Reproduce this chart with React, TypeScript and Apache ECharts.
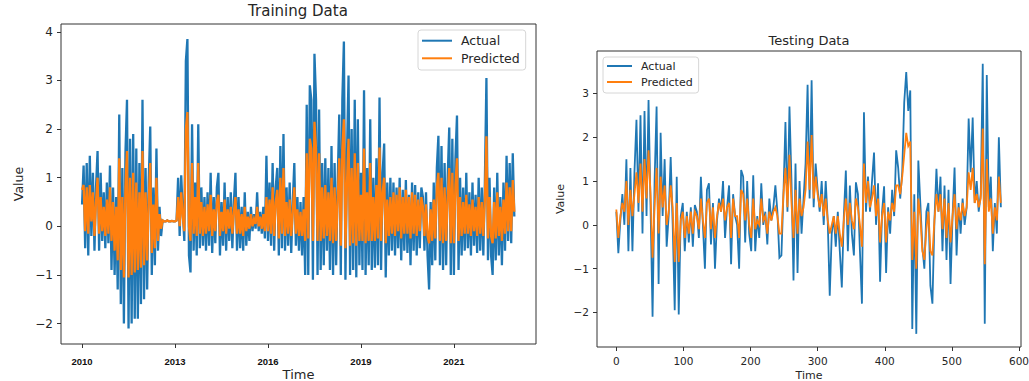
import React, { useEffect, useRef } from 'react';
import * as echarts from 'echarts';

// ---------- Training data (sampled every 0.05 year from 2010.00) ----------
const trainStartYear = 2010;
const trainStep = 0.05;
const trainTickValues = [2010, 2013, 2016, 2019, 2022];
const trainTickLabels = ['2010', '2013', '2016', '2019', '2021'];
const trainYTicks = [-2, -1, 0, 1, 2, 3, 4];

const trainActual = [
  // 2010
  0.45, 1.25, -0.45, 1.3, -0.6, 1.45, -0.2, 1.1, -0.5, 0.8, 1.55, -0.5, 1.1, -0.3, 0.7, -0.45, 0.9, -0.35, 1.25, -0.9,
  // 2011
  0.8, -1.0, 0.6, -1.3, 2.3, -1.6, 1.2, -2.0, 1.5, 2.6, -2.1, 1.8, -2.0, 1.9, -1.9, 1.6, -1.9, 1.3, -1.6, 2.6,
  // 2012
  -1.5, 1.2, -1.3, 0.9, 2.05, -1.0, 0.8, -0.8, 1.6, -0.5, 0.4, -0.2, 0.12, 0.1, 0.1, 0.12, 0.1, 0.1, 0.11, 0.1,
  // 2013
  0.1, 0.12, 1.0, -0.2, 1.05, 0.3, -0.3, 3.4, 3.85, -0.6, -0.95, 2.1, -0.5, 0.9, -0.6, 2.1, -0.45, 0.8, -0.4, 0.6,
  // 2014
  -0.5, 0.7, -0.4, 1.1, -0.55, 0.6, -0.35, 0.8, 1.1, -0.6, 0.5, -0.4, 0.9, -0.5, 0.6, -0.3, 0.7, -0.45, 0.5, 1.1,
  // 2015
  -0.5, 0.6, -0.45, 0.4, -0.5, 0.7, -0.4, 0.3, -0.3, 0.4, -0.1, 0.25, -0.05, 0.7, -0.1, 0.3, -0.15, 0.4, -0.25, 1.45,
  // 2016
  -0.3, 0.9, -0.4, 1.3, -0.5, 0.8, 1.2, -0.6, 1.65, -0.45, 1.9, -0.5, 0.8, -0.4, 0.9, -0.55, 0.5, 1.3, -0.4, 0.6,
  // 2017
  -0.5, 0.5, -0.6, 0.6, -1.0, 2.5, -1.0, 2.9, 2.6, -1.1, 3.55, 2.6, -1.0, 2.4, -0.9, 1.3, -0.8, 1.4, -0.5, 1.2,
  // 2018
  -0.9, 1.65, -1.0, 1.3, -0.8, 0.9, 2.3, -1.0, 2.6, 3.8, -1.1, 1.5, 3.1, -1.0, 2.0, -0.9, 2.6, -1.05, 2.2, -0.8,
  // 2019
  1.1, -0.9, 2.8, -1.0, 1.2, -0.8, 2.2, -0.9, 1.0, -0.85, 1.4, -0.8, 2.65, -0.9, 1.1, 1.7, -1.05, 0.9, -0.6, 1.0,
  // 2020
  -0.5, 0.9, -0.6, 0.8, -0.45, 1.0, -0.7, 0.75, -0.5, 0.95, -0.55, 0.65, -0.8, 0.9, -0.5, 0.85, -0.6, 0.7, -0.45, 0.8,
  // 2021
  0.6, -0.5, 0.7, -0.6, -1.3, 0.5, -0.8, 0.9, -0.7, 1.2, 1.86, -0.8, 1.65, -0.9, 1.3, -0.8, 1.0, 2.03, -1.0, 1.8,
  // 2022
  -1.0, 1.4, 2.28, -0.9, 1.0, -0.6, 0.8, -0.5, 1.1, -0.45, 0.7, -0.6, 0.9, -0.4, 0.65, -0.55, 1.0, -0.5, 0.8, -0.6,
  // 2023
  0.9, 3.05, -0.7, 1.0, -0.6, -1.0, 0.8, -0.7, 1.1, -0.6, 0.6, -0.8, 0.9, -0.5, 1.45, -0.3, 1.3, -0.35, 1.5, 0.2,
];

const trainPredicted = [
  // 2010
  0.75, 0.85, -0.1, 0.8, -0.15, 0.85, 0.1, 0.7, -0.2, 0.5, 1.0, -0.15, 0.6, -0.1, 0.4, -0.2, 0.55, -0.15, 0.8, -0.3,
  // 2011
  0.5, -0.5, 0.4, -0.7, 1.4, -0.9, 0.6, -1.05, 0.8, 1.55, -1.05, 1.0, -1.0, 1.1, -0.95, 0.9, -0.9, 0.7, -0.85, 1.55,
  // 2012
  -0.8, 0.7, -0.7, 0.5, 1.3, -0.55, 0.45, -0.45, 1.0, -0.3, 0.25, -0.05, 0.12, 0.1, 0.1, 0.12, 0.1, 0.1, 0.11, 0.1,
  // 2013
  0.1, 0.12, 0.6, 0.0, 0.7, 0.2, -0.1, 2.0, 2.35, 0.0, -0.3, 1.3, -0.15, 0.6, -0.2, 1.3, -0.15, 0.5, -0.2, 0.4,
  // 2014
  -0.15, 0.45, -0.1, 0.65, -0.2, 0.35, -0.1, 0.5, 0.65, -0.2, 0.3, -0.1, 0.55, -0.15, 0.35, -0.05, 0.4, -0.15, 0.3, 0.6,
  // 2015
  -0.15, 0.35, -0.15, 0.25, -0.2, 0.4, -0.1, 0.2, -0.05, 0.25, 0.0, 0.15, 0.05, 0.4, 0.0, 0.2, -0.05, 0.25, -0.1, 0.6,
  // 2016
  -0.1, 0.55, -0.15, 0.8, -0.2, 0.5, 0.75, -0.25, 1.0, -0.15, 1.2, -0.2, 0.5, -0.15, 0.55, -0.2, 0.3, 0.8, -0.15, 0.35,
  // 2017
  -0.2, 0.3, -0.2, 0.35, -0.3, 1.5, -0.25, 1.8, 1.6, -0.3, 2.15, 1.6, -0.3, 1.5, -0.3, 0.8, -0.25, 0.85, -0.2, 0.7,
  // 2018
  -0.3, 1.0, -0.35, 0.8, -0.3, 0.55, 1.4, -0.4, 1.6, 2.2, -0.45, 0.9, 1.8, -0.4, 1.2, -0.35, 1.5, -0.4, 1.3, -0.3,
  // 2019
  0.65, -0.3, 1.6, -0.35, 0.7, -0.3, 1.3, -0.3, 0.6, -0.3, 0.85, -0.25, 1.62, -0.3, 0.7, 1.0, -0.35, 0.55, -0.2, 0.6,
  // 2020
  -0.15, 0.7, -0.2, 0.65, -0.1, 0.8, -0.25, 0.6, -0.15, 0.75, -0.15, 0.6, -0.25, 0.7, -0.15, 0.65, -0.2, 0.55, -0.1, 0.6,
  // 2021
  0.4, -0.2, 0.45, -0.2, -0.35, 0.35, -0.3, 0.55, -0.25, 0.8, 1.1, -0.3, 1.0, -0.35, 0.8, -0.3, 0.6, 1.2, -0.35, 1.1,
  // 2022
  -0.35, 0.85, 1.4, -0.3, 0.6, -0.2, 0.5, -0.15, 0.65, -0.15, 0.45, -0.2, 0.55, -0.1, 0.4, -0.2, 0.6, -0.15, 0.5, -0.2,
  // 2023
  0.55, 1.85, -0.25, 0.6, -0.2, -0.35, 0.5, -0.25, 0.7, -0.2, 0.4, -0.3, 0.55, -0.15, 0.9, -0.1, 0.8, -0.1, 0.95, 0.3,
];

// ---------- Testing data (sampled every 3 steps from 0) ----------
const testStep = 3;
const testXTicks = [0, 100, 200, 300, 400, 500, 600];
const testYTicks = [-2, -1, 0, 1, 2, 3];

const testActual = [
  0.3, -0.65, 0.1, 0.7, 0.0, 1.5, -0.6, 1.3, -0.6, 1.2,
  2.4, 0.3, 2.5, -0.2, 2.6, 0.2, 2.85, 0.4, -2.1, 1.0,
  2.7, -1.35, 2.1, 0.2, 1.5, -0.5, 0.2, 1.55, 0.0, -1.95,
  1.1, -2.05, 0.2, 0.5, -0.6, 0.3, -0.4, 0.4, -0.5, 0.45,
  0.3, -0.3, 1.1, 0.0, -1.0, 0.8, 0.95, -0.45, 0.5, -1.0,
  0.1, 0.6, 0.3, 1.0, -0.3, 0.4, 0.9, -0.9, 0.7, 0.2,
  0.0, -1.0, 1.25, 1.1, -0.4, 1.0, -0.2, -0.6, 1.13, -0.6,
  0.2, -0.3, 0.95, 0.0, 0.3, -0.45, 0.6, 0.1, 0.4, 0.9,
  0.3, -0.75, -0.7, 0.7, 2.35, 0.3, 2.7, 1.0, -1.27, 1.4,
  -1.1, 1.0, -0.2, 0.6, 1.4, 3.2, 0.6, 3.3, 0.4, 1.4,
  0.8, 0.3, 1.0, 0.0, 1.0, 0.1, -1.62, -0.2, 0.2, -0.5,
  0.3, -0.6, -1.43, 0.2, 1.24, -0.6, 0.9, -0.2, -0.7, 0.97,
  0.7, -0.6, -1.8, 2.57, 0.3, 1.1, 0.3, 1.0, 1.65, 0.0,
  0.95, -1.3, 0.3, 0.88, -1.1, 0.4, -0.2, 0.8, 0.2, 1.7,
  1.3, 0.6, 1.2, 2.8, 3.49, 2.6, 3.07, -2.38, 0.7, -2.49,
  1.47, 0.5, -0.5, -1.0, 0.3, 0.5, -1.39, -1.8, 0.1, 1.28,
  0.3, 1.1, -0.6, 0.9, -0.8, 0.8, -1.35, 0.2, 1.31, -0.7,
  0.5, -0.2, 0.6, 0.0, 0.4, 2.43, 1.2, 2.45, 0.5, 1.0,
  0.3, 0.7, 3.68, -2.26, 3.42, 0.4, 1.1, -0.6, 0.5, -0.2,
  2.0, 0.4,
];

const testPredicted = [
  0.35, -0.3, 0.2, 0.5, 0.3, 1.0, 0.0, 0.8, 0.2, 0.7,
  1.2, 0.5, 1.4, 0.3, 1.5, 0.6, 1.7, 0.7, -0.75, 0.4,
  1.3, -0.2, 1.1, 0.4, 0.9, 0.0, 0.3, 0.9, 0.4, -0.85,
  0.5, -0.85, 0.1, 0.3, -0.3, 0.2, -0.2, 0.3, -0.2, 0.3,
  0.2, -0.1, 0.6, 0.1, -0.3, 0.5, 0.6, -0.1, 0.4, -0.3,
  0.2, 0.5, 0.3, 0.6, 0.1, 0.4, 0.5, -0.3, 0.6, 0.2,
  0.2, -0.3, 0.8, 0.7, 0.1, 0.6, 0.0, -0.3, 0.6, -0.1,
  0.1, 0.0, 0.6, 0.1, 0.2, -0.2, 0.3, 0.1, 0.3, 0.4,
  0.2, -0.2, -0.2, 0.7, 1.3, 0.4, 1.6, 0.5, -0.3, 0.8,
  -0.2, 0.6, 0.2, 0.4, 0.8, 1.9, 0.8, 2.05, 0.6, 1.1,
  0.7, 0.4, 0.7, 0.2, 0.6, 0.1, -0.2, 0.0, 0.2, -0.2,
  0.2, -0.2, -0.5, 0.1, 0.6, 0.0, 0.5, 0.1, -0.1, 0.6,
  0.4, 0.0, -0.5, 1.4, 0.5, 1.0, 0.4, 0.6, 0.9, 0.2,
  0.6, -0.4, 0.2, 0.5, -0.4, 0.3, 0.1, 0.5, 0.3, 0.9,
  0.9, 0.7, 1.1, 1.6, 2.1, 1.8, 1.9, -0.8, 0.3, -1.0,
  0.6, 0.2, -0.6, -0.8, -0.1, 0.3, -0.6, -0.7, 0.1, 0.7,
  0.3, 0.7, -0.1, 0.6, -0.3, 0.5, -0.4, 0.2, 0.7, -0.1,
  0.4, 0.1, 0.5, 0.2, 0.4, 1.2, 0.8, 1.3, 0.5, 0.7,
  0.4, 0.6, 2.2, -0.9, 1.5, 0.3, 0.6, -0.2, 0.4, 0.1,
  1.1, 0.5,
];

const BLUE = '#1f77b4';
const ORANGE = '#ff7f0e';
const TEXT = '#262626';
const FONT = 'DejaVu Sans';

const fmtNum = (v: number) => (v < 0 ? '\u2212' + Math.abs(v) : String(v));

function buildOption() {
  const trainA = trainActual.map((v, i) => [trainStartYear + i * trainStep, v]);
  const trainP = trainPredicted.map((v, i) => [trainStartYear + i * trainStep, v]);
  const testA = testActual.map((v, i) => [i * testStep, v]);
  const testP = testPredicted.map((v, i) => [i * testStep, v]);

  const lineSeries = (name: string, data: number[][], idx: number, color: string, width: number) => ({
    type: 'line',
    name,
    xAxisIndex: idx,
    yAxisIndex: idx,
    data,
    showSymbol: false,
    symbol: 'none',
    silent: true,
    lineStyle: { width, color, join: 'miter' },
    itemStyle: { color },
    emphasis: { disabled: true },
  });

  const tickStyle = { show: true, inside: false, length: 4, lineStyle: { color: '#333', width: 1 } };
  const hiddenLine = { show: false, onZero: false };

  return {
    animation: false,
    backgroundColor: '#fff',
    graphic: [
      {
        type: 'text',
        x: 298,
        y: 11,
        style: {
          text: 'Training Data',
          fill: TEXT,
          font: `15px "${FONT}"`,
          textAlign: 'center',
          textVerticalAlign: 'middle',
        },
      },
      {
        type: 'text',
        x: 809,
        y: 40,
        style: {
          text: 'Testing Data',
          fill: TEXT,
          font: `13px "${FONT}"`,
          textAlign: 'center',
          textVerticalAlign: 'middle',
        },
      },
    ],
    legend: [
      {
        left: 418,
        top: 30,
        orient: 'vertical',
        data: ['Actual', 'Predicted'],
        icon: 'rect',
        itemWidth: 30,
        itemHeight: 2,
        itemGap: 3.6,
        padding: [3.7, 6, 4.7, 4],
        backgroundColor: '#fff',
        borderColor: '#d6d6d6',
        borderWidth: 1,
        borderRadius: 3,
        selectedMode: false,
        textStyle: { fontSize: 12.5, lineHeight: 14, color: TEXT, fontFamily: FONT, padding: [0, 0, 0, 4] },
      },
      {
        left: 603,
        top: 57,
        orient: 'vertical',
        data: ['Actual', 'Predicted'],
        icon: 'rect',
        itemWidth: 25,
        itemHeight: 2,
        itemGap: 3.5,
        padding: [2.75, 6, 4.75, 4],
        backgroundColor: '#fff',
        borderColor: '#d6d6d6',
        borderWidth: 1,
        borderRadius: 3,
        selectedMode: false,
        textStyle: { fontSize: 11, lineHeight: 12.5, color: TEXT, fontFamily: FONT, padding: [0, 0, 0, 4] },
      },
    ],
    grid: [
      {
        left: 61, top: 24, width: 475, height: 320,
        outerBoundsMode: 'none', containLabel: false,
        show: true, borderColor: '#333', borderWidth: 1, backgroundColor: 'transparent',
      },
      {
        left: 597, top: 51, width: 424, height: 296,
        outerBoundsMode: 'none', containLabel: false,
        show: true, borderColor: '#333', borderWidth: 1, backgroundColor: 'transparent',
      },
    ],
    xAxis: [
      {
        type: 'value',
        gridIndex: 0,
        min: 2009.32,
        max: 2024.65,
        splitLine: { show: false },
        axisLine: hiddenLine,
        axisTick: { ...tickStyle, customValues: trainTickValues },
        axisLabel: {
          customValues: trainTickValues,
          formatter: (v: number) => {
            const k = trainTickValues.indexOf(Math.round(v));
            return k >= 0 ? trainTickLabels[k] : '';
          },
          fontSize: 9.5,
          fontWeight: 'bold',
          fontFamily: 'Liberation Sans',
          color: '#111',
          margin: 12,
        },
        name: 'Time',
        nameLocation: 'middle',
        nameGap: 23,
        nameMoveOverlap: false,
        nameTextStyle: { fontSize: 13, lineHeight: 14, color: TEXT, fontFamily: FONT },
      },
      {
        type: 'value',
        gridIndex: 1,
        min: -28.8,
        max: 603,
        splitLine: { show: false },
        axisLine: hiddenLine,
        axisTick: { ...tickStyle, customValues: testXTicks },
        axisLabel: {
          customValues: testXTicks,
          formatter: (v: number) => fmtNum(v),
          fontSize: 10.5,
          fontFamily: FONT,
          color: TEXT,
          margin: 8,
        },
        name: 'Time',
        nameLocation: 'middle',
        nameGap: 22,
        nameMoveOverlap: false,
        nameTextStyle: { fontSize: 11, lineHeight: 12, color: TEXT, fontFamily: FONT },
      },
    ],
    yAxis: [
      {
        type: 'value',
        gridIndex: 0,
        min: -2.42,
        max: 4.16,
        splitLine: { show: false },
        axisLine: hiddenLine,
        axisTick: { ...tickStyle, customValues: trainYTicks },
        axisLabel: {
          customValues: trainYTicks,
          formatter: (v: number) => fmtNum(v),
          fontSize: 12,
          fontFamily: FONT,
          color: TEXT,
          margin: 8,
        },
        name: 'Value',
        nameLocation: 'middle',
        nameGap: 36,
        nameMoveOverlap: false,
        nameTextStyle: { fontSize: 12.5, color: TEXT, fontFamily: FONT },
      },
      {
        type: 'value',
        gridIndex: 1,
        min: -2.79,
        max: 3.97,
        splitLine: { show: false },
        axisLine: hiddenLine,
        axisTick: { ...tickStyle, customValues: testYTicks },
        axisLabel: {
          customValues: testYTicks,
          formatter: (v: number) => fmtNum(v),
          fontSize: 10.5,
          fontFamily: FONT,
          color: TEXT,
          margin: 8,
        },
        name: 'Value',
        nameLocation: 'middle',
        nameGap: 31,
        nameMoveOverlap: false,
        nameTextStyle: { fontSize: 11, color: TEXT, fontFamily: FONT },
      },
    ],
    series: [
      lineSeries('Actual', trainA, 0, BLUE, 2.3),
      lineSeries('Predicted', trainP, 0, ORANGE, 2.3),
      lineSeries('Actual', testA, 1, BLUE, 1.8),
      lineSeries('Predicted', testP, 1, ORANGE, 1.8),
    ],
  };
}

export default function App() {
  const ref = useRef<HTMLDivElement>(null);
  useEffect(() => {
    document.body.style.margin = '0';
    const chart = echarts.init(ref.current as HTMLDivElement, null, { renderer: 'svg' });
    chart.setOption(buildOption() as any);
    return () => chart.dispose();
  }, []);
  return (
    <div
      ref={ref}
      style={{ position: 'fixed', left: 0, top: 0, width: 1029, height: 381 }}
    />
  );
}
